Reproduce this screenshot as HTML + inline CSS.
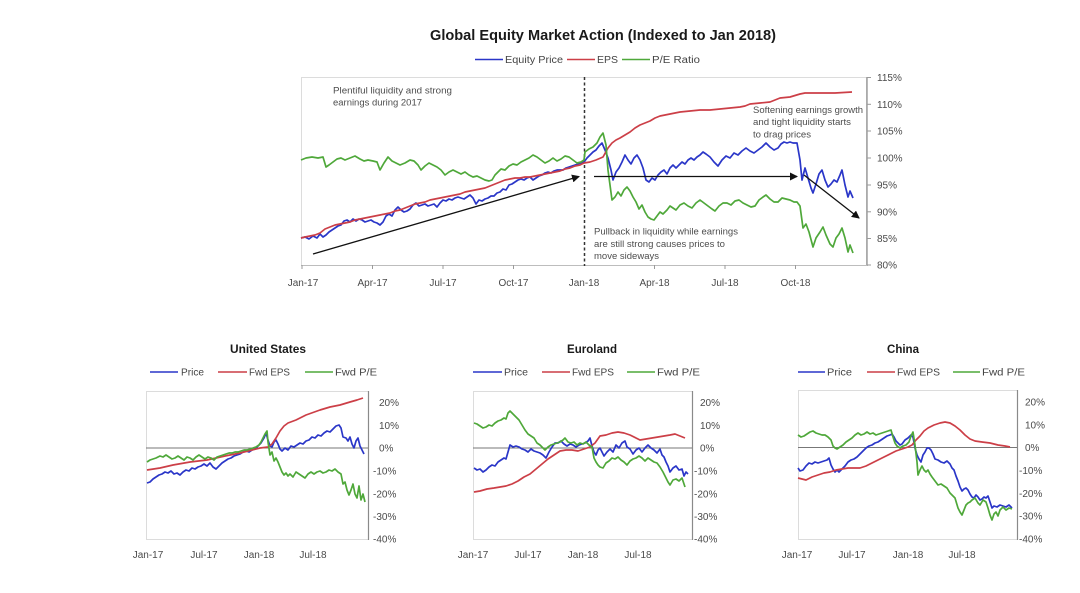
<!DOCTYPE html>
<html>
<head>
<meta charset="utf-8">
<style>
  html,body{margin:0;padding:0;background:#fff;}
  svg{display:block;}
  text{font-family:"Liberation Sans",sans-serif;}
</style>
</head>
<body>
<svg width="1080" height="593" viewBox="0 0 1080 593" xmlns="http://www.w3.org/2000/svg">
<rect x="0" y="0" width="1080" height="593" fill="#fff"/>

<!-- ===== TOP CHART ===== -->
<text x="430" y="40" font-size="14.5" font-weight="bold" fill="#1a1a1a" textLength="346" lengthAdjust="spacingAndGlyphs">Global Equity Market Action (Indexed to Jan 2018)</text>

<!-- legend -->
<g font-size="10" fill="#444">
  <line x1="475" y1="59.5" x2="503" y2="59.5" stroke="#2a36c8" stroke-width="1.6"/>
  <text x="505" y="63" textLength="58" lengthAdjust="spacingAndGlyphs">Equity Price</text>
  <line x1="567" y1="59.5" x2="595" y2="59.5" stroke="#cc3f47" stroke-width="1.6"/>
  <text x="597" y="63" textLength="21" lengthAdjust="spacingAndGlyphs">EPS</text>
  <line x1="622" y1="59.5" x2="650" y2="59.5" stroke="#4fa83a" stroke-width="1.6"/>
  <text x="652" y="63" textLength="48" lengthAdjust="spacingAndGlyphs">P/E Ratio</text>
</g>

<!-- frame -->
<rect x="301.5" y="77.5" width="565" height="188" fill="none" stroke="#dcdcdc" stroke-width="1"/>
<line x1="867" y1="77" x2="867" y2="266" stroke="#8a8a8a" stroke-width="1.2"/>
<line x1="301" y1="265.5" x2="867" y2="265.5" stroke="#bdbdbd" stroke-width="1"/>
<g stroke="#9a9a9a" stroke-width="1">
  <line x1="302" y1="265" x2="302" y2="269"/>
  <line x1="372.5" y1="265" x2="372.5" y2="269"/>
  <line x1="443" y1="265" x2="443" y2="269"/>
  <line x1="513.5" y1="265" x2="513.5" y2="269"/>
  <line x1="654.5" y1="265" x2="654.5" y2="269"/>
  <line x1="725" y1="265" x2="725" y2="269"/>
  <line x1="795.5" y1="265" x2="795.5" y2="269"/>
  <line x1="867" y1="77.5" x2="871" y2="77.5"/>
  <line x1="867" y1="104.3" x2="871" y2="104.3"/>
  <line x1="867" y1="131" x2="871" y2="131"/>
  <line x1="867" y1="158" x2="871" y2="158"/>
  <line x1="867" y1="185" x2="871" y2="185"/>
  <line x1="867" y1="211.8" x2="871" y2="211.8"/>
  <line x1="867" y1="238.5" x2="871" y2="238.5"/>
  <line x1="867" y1="265" x2="871" y2="265"/>
</g>
<g font-size="10" fill="#4a4a4a">
  <text x="877" y="81">115%</text>
  <text x="877" y="108">110%</text>
  <text x="877" y="134.5">105%</text>
  <text x="877" y="161.5">100%</text>
  <text x="877" y="188.5">95%</text>
  <text x="877" y="215.3">90%</text>
  <text x="877" y="242">85%</text>
  <text x="877" y="268.5">80%</text>
</g>
<g font-size="10" fill="#4a4a4a" text-anchor="middle">
  <text x="303" y="286">Jan-17</text>
  <text x="372.5" y="286">Apr-17</text>
  <text x="443" y="286">Jul-17</text>
  <text x="513.5" y="286">Oct-17</text>
  <text x="584" y="286">Jan-18</text>
  <text x="654.5" y="286">Apr-18</text>
  <text x="725" y="286">Jul-18</text>
  <text x="795.5" y="286">Oct-18</text>
</g>

<!-- dashed vertical -->
<line x1="584.5" y1="77" x2="584.5" y2="266" stroke="#333" stroke-width="1.5" stroke-dasharray="3,2.5"/>

<!-- series top -->
<polyline fill="none" stroke="#2a36c8" stroke-width="1.7" stroke-linejoin="round" points="301,238 305,237 309,239 313,236 317,238 320,234 323,237 326,235 329,232 332,230 335,228 338,226 341,225 344,221 347,220 350,222 353,219 356,221 359,219 362,220 365,222 368,221 371,220 374,222 377,223 380,225 383,222 386,216 389,214 392,216 395,210 398,207 401,210 404,212 407,211 410,209 413,205 416,203 419,206 422,205 425,204 428,206 431,205 434,204 437,207 440,203 443,200 446,201 449,199 452,200 455,198 458,197 461,198 464,199 467,197 470,195 473,198 476,204 479,200 482,201 485,199 488,198 491,196 494,196 497,193 500,192 503,189 506,190 509,185 512,184 515,182 518,180 521,179 524,180 527,178 530,177 533,180 536,178 539,176 542,175 545,173 548,172 551,173 554,171 557,170 560,170 563,170 566,168 569,167 572,166 575,165 578,164 581,163 584,162 587,158 590,155 593,152 596,150 599,146 602,143 605,150 608,158 611,170 613,180 616,172 619,168 622,162 625,155 628,160 631,164 634,158 637,155 640,160 643,168 646,180 649,182 652,178 655,180 658,175 661,172 664,170 667,174 670,168 673,165 676,168 679,165 682,162 685,164 688,160 691,158 694,160 697,157 700,155 703,152 706,154 710,157 714,162 718,166 722,160 726,156 730,158 734,153 738,155 742,151 746,148 750,151 754,153 758,150 762,147 766,143 770,147 774,150 778,148 781,144 784,142 787,143 790,142 793,143 797,143 800,160 802,180 805,168 808,178 811,188 813,193 816,184 819,174 822,170 825,180 828,187 831,184 834,180 837,182 840,175 842,170 845,185 848,197 850,191 853,198"/>
<polyline fill="none" stroke="#cc3f47" stroke-width="1.7" stroke-linejoin="round" points="301,238 305,237 310,236 315,235 320,233 325,229 330,227 335,225 340,224 345,223 350,222 355,220 360,219 365,218 370,217 375,216 380,215 385,214 390,213 395,211 400,210 405,208 410,206 415,204 420,203 425,202 430,200 435,199 440,198 445,197 450,196 455,195 460,194 465,192 470,191 475,190 480,189 485,188 490,186 495,184 500,182 505,180 510,179 515,178 520,178 525,177 530,177 535,176 540,175 545,174 550,173 555,172 560,171 565,169 570,168 575,166 580,165 584,163 590,162 596,160 603,157 608,148 612,143 616,140 620,138 625,135 630,132 635,128 640,125 645,123 650,121 655,118 660,116 665,115 670,114 675,113 680,112 690,111 700,110 710,110 720,109 730,108 740,107 745,106 750,104 760,103 770,102 775,100 780,98 790,97 800,94 805,93 820,93 835,93 852,92"/>
<polyline fill="none" stroke="#4fa83a" stroke-width="1.7" stroke-linejoin="round" points="301,160 306,158 312,157 318,158 323,157 326,167 329,165 333,162 337,159 341,158 345,160 350,158 355,156 360,159 364,161 368,160 373,161 377,162 380,170 384,163 388,157 392,161 396,163 400,165 405,163 410,160 414,161 418,165 421,170 425,166 429,163 433,165 437,167 441,170 445,175 449,172 453,170 457,172 461,174 465,172 469,175 473,177 477,176 481,178 485,180 489,181 492,180 495,175 498,172 501,169 505,170 509,166 513,164 517,165 521,162 525,160 529,158 533,155 537,157 541,160 545,163 549,161 553,158 557,161 561,159 565,156 569,157 573,160 577,163 581,162 584,160 585,152 589,149 593,147 597,143 600,137 603,133 606,145 608,170 610,185 612,200 615,197 618,192 621,196 624,190 627,187 630,191 633,197 636,202 639,209 642,205 645,212 648,217 651,219 654,220 657,216 660,212 663,214 667,210 670,206 673,208 676,210 680,205 684,203 688,206 692,208 696,203 700,200 704,203 708,206 712,209 715,211 719,206 723,203 727,203 731,205 735,201 739,200 743,203 747,205 751,207 755,206 759,200 763,197 766,195 770,199 774,202 778,202 782,198 786,199 790,200 794,202 797,202 800,206 803,228 806,224 809,232 813,247 816,238 820,232 823,227 826,235 830,244 833,247 836,238 839,234 842,228 845,238 848,252 850,245 853,253"/>

<!-- arrows -->
<defs>
  <marker id="ah" markerWidth="8" markerHeight="8" refX="7" refY="4" orient="auto" markerUnits="userSpaceOnUse">
    <path d="M0,0 L8,4 L0,8 Z" fill="#111"/>
  </marker>
</defs>
<line x1="313" y1="254" x2="579" y2="176.5" stroke="#111" stroke-width="1.3" marker-end="url(#ah)"/>
<line x1="594" y1="176.5" x2="797" y2="176.5" stroke="#111" stroke-width="1.3" marker-end="url(#ah)"/>
<line x1="804" y1="175" x2="859" y2="218" stroke="#111" stroke-width="1.3" marker-end="url(#ah)"/>

<!-- annotations -->
<g font-size="9" fill="#4d4d4d">
  <text x="333" y="93.5" textLength="119" lengthAdjust="spacingAndGlyphs">Plentiful liquidity and strong</text>
  <text x="333" y="105.5" textLength="89" lengthAdjust="spacingAndGlyphs">earnings during 2017</text>
  <text x="753" y="113" textLength="110" lengthAdjust="spacingAndGlyphs">Softening earnings growth</text>
  <text x="753" y="125" textLength="98" lengthAdjust="spacingAndGlyphs">and tight liquidity starts</text>
  <text x="753" y="137.5" textLength="58" lengthAdjust="spacingAndGlyphs">to drag prices</text>
  <text x="594" y="234.5" textLength="144" lengthAdjust="spacingAndGlyphs">Pullback in liquidity while earnings</text>
  <text x="594" y="247" textLength="131" lengthAdjust="spacingAndGlyphs">are still strong causes prices to</text>
  <text x="594" y="259" textLength="65" lengthAdjust="spacingAndGlyphs">move sideways</text>
</g>

<!-- ===== BOTTOM CHART: UNITED STATES ===== -->
<text x="268" y="353" font-size="11.5" font-weight="bold" fill="#1a1a1a" text-anchor="middle" textLength="76" lengthAdjust="spacingAndGlyphs">United States</text>
<g font-size="10" fill="#444">
  <line x1="150" y1="372" x2="178" y2="372" stroke="#2a36c8" stroke-width="1.6"/>
  <text x="181" y="375.5" textLength="23" lengthAdjust="spacingAndGlyphs">Price</text>
  <line x1="218" y1="372" x2="247" y2="372" stroke="#cc3f47" stroke-width="1.6"/>
  <text x="249" y="375.5" textLength="41" lengthAdjust="spacingAndGlyphs">Fwd EPS</text>
  <line x1="305" y1="372" x2="333" y2="372" stroke="#4fa83a" stroke-width="1.6"/>
  <text x="335" y="375.5" textLength="42" lengthAdjust="spacingAndGlyphs">Fwd P/E</text>
</g>
<rect x="146.5" y="391.5" width="222" height="148" fill="none" stroke="#dcdcdc" stroke-width="1"/>
<line x1="368.5" y1="391" x2="368.5" y2="540" stroke="#8a8a8a" stroke-width="1.2"/>
<line x1="146" y1="448" x2="368" y2="448" stroke="#777" stroke-width="1"/>
<g font-size="10" fill="#4a4a4a">
  <text x="379" y="406">20%</text>
  <text x="379" y="429">10%</text>
  <text x="379" y="451.5">0%</text>
  <text x="373" y="474.5">-10%</text>
  <text x="373" y="497.5">-20%</text>
  <text x="373" y="520">-30%</text>
  <text x="373" y="542.5">-40%</text>
</g>
<g font-size="10" fill="#4a4a4a" text-anchor="middle">
  <text x="148" y="558">Jan-17</text>
  <text x="204" y="558">Jul-17</text>
  <text x="259" y="558">Jan-18</text>
  <text x="313" y="558">Jul-18</text>
</g>
<polyline fill="none" stroke="#2a36c8" stroke-width="1.7" stroke-linejoin="round" points="147,483 150,482 153,479 156,477 159,475 162,474 165,472 168,473 171,471 174,474 177,473 180,475 183,472 186,470 189,471 192,468 195,469 198,467 201,466 204,464 207,466 210,463 213,467 216,469 219,466 222,463 225,461 228,459 231,458 234,456 237,455 240,454 243,452 246,451 249,452 252,450 255,449 258,446 261,443 264,438 266,433 268,440 270,446 272,447 274,442 276,440 278,444 280,449 282,451 285,448 288,450 291,446 294,447 297,445 300,443 303,444 306,441 309,440 312,437 315,438 318,435 321,436 324,433 327,431 330,432 333,429 336,426 339,425 341,428 343,437 346,438 348,441 350,437 352,444 354,448 356,441 358,438 360,446 362,450 364,454"/>
<polyline fill="none" stroke="#cc3f47" stroke-width="1.7" stroke-linejoin="round" points="147,470 160,468 173,465 190,462 207,460 225,456 240,453 252,450 260,448 268,447 272,444 276,438 280,431 284,426 288,423 296,420 306,415 320,410 330,407 340,405 350,402 357,400 363,398"/>
<polyline fill="none" stroke="#4fa83a" stroke-width="1.7" stroke-linejoin="round" points="147,462 150,460 153,459 156,458 160,456 163,457 166,455 169,457 172,459 175,458 178,456 181,458 184,460 187,457 190,458 193,460 196,457 199,455 202,457 205,459 208,457 211,458 214,460 217,457 220,456 223,455 226,454 229,453 232,453 235,452 238,452 241,451 244,450 247,450 250,449 253,448 256,447 259,445 261,442 263,438 265,434 267,431 268,442 270,455 272,452 274,461 276,458 278,462 280,467 282,472 284,475 286,473 288,476 290,474 293,477 296,472 299,474 302,476 305,478 308,474 311,472 314,474 317,472 320,471 323,473 326,472 329,470 332,471 335,469 338,472 341,474 343,484 345,482 347,490 349,495 351,490 353,484 355,494 357,498 359,486 361,500 363,494 365,502"/>

<!-- ===== BOTTOM CHART: EUROLAND ===== -->
<text x="592" y="353" font-size="11.5" font-weight="bold" fill="#1a1a1a" text-anchor="middle" textLength="50" lengthAdjust="spacingAndGlyphs">Euroland</text>
<g font-size="10" fill="#444">
  <line x1="473" y1="372" x2="502" y2="372" stroke="#2a36c8" stroke-width="1.6"/>
  <text x="504" y="375.5" textLength="24" lengthAdjust="spacingAndGlyphs">Price</text>
  <line x1="542" y1="372" x2="570" y2="372" stroke="#cc3f47" stroke-width="1.6"/>
  <text x="572" y="375.5" textLength="42" lengthAdjust="spacingAndGlyphs">Fwd EPS</text>
  <line x1="627" y1="372" x2="655" y2="372" stroke="#4fa83a" stroke-width="1.6"/>
  <text x="657" y="375.5" textLength="43" lengthAdjust="spacingAndGlyphs">Fwd P/E</text>
</g>
<rect x="473.5" y="391.5" width="219" height="148" fill="none" stroke="#dcdcdc" stroke-width="1"/>
<line x1="692.5" y1="391" x2="692.5" y2="540" stroke="#8a8a8a" stroke-width="1.2"/>
<line x1="473" y1="448" x2="692" y2="448" stroke="#777" stroke-width="1"/>
<g font-size="10" fill="#4a4a4a">
  <text x="700" y="406">20%</text>
  <text x="700" y="429">10%</text>
  <text x="700" y="451.5">0%</text>
  <text x="694" y="474.5">-10%</text>
  <text x="694" y="497.5">-20%</text>
  <text x="694" y="520">-30%</text>
  <text x="694" y="542.5">-40%</text>
</g>
<g font-size="10" fill="#4a4a4a" text-anchor="middle">
  <text x="473" y="558">Jan-17</text>
  <text x="528" y="558">Jul-17</text>
  <text x="583" y="558">Jan-18</text>
  <text x="638" y="558">Jul-18</text>
</g>
<polyline fill="none" stroke="#2a36c8" stroke-width="1.7" stroke-linejoin="round" points="474,468 477,470 480,469 483,472 486,470 489,467 492,465 495,466 498,462 501,460 504,458 506,459 508,452 510,445 513,447 516,446 519,447 522,449 525,450 528,452 531,449 534,451 537,452 540,453 543,455 546,458 549,452 552,447 555,443 558,443 561,441 564,444 567,446 570,444 573,445 576,447 579,445 582,444 585,443 588,441 590,438 592,446 594,452 596,455 598,450 600,448 602,452 604,456 607,452 610,449 613,452 616,445 619,448 622,443 625,441 627,447 630,449 633,454 636,450 639,448 642,452 645,448 648,445 651,448 654,450 657,453 660,449 662,455 664,457 666,462 668,466 670,472 673,468 676,466 679,470 682,469 684,476 686,472 688,474"/>
<polyline fill="none" stroke="#cc3f47" stroke-width="1.7" stroke-linejoin="round" points="474,492 480,491 487,489 494,488 500,487 506,486 512,484 518,481 524,477 530,474 536,469 542,464 548,459 554,455 560,451 566,450 572,450 578,451 584,449 590,447 595,443 600,436 606,435 612,433 618,432 624,433 630,435 636,438 640,440 646,439 652,438 658,437 664,436 670,435 675,434 680,436 685,438"/>
<polyline fill="none" stroke="#4fa83a" stroke-width="1.7" stroke-linejoin="round" points="474,423 477,424 480,426 483,428 486,427 489,425 492,426 495,423 498,421 501,420 504,418 506,419 508,413 510,411 513,414 516,417 519,420 522,425 525,430 528,434 531,436 534,438 537,443 540,445 543,448 545,450 548,447 551,445 554,444 557,443 560,442 563,440 565,438 568,442 571,443 574,442 577,445 580,443 583,444 586,442 589,445 592,447 594,458 596,462 598,465 600,467 603,468 606,463 609,461 612,458 615,459 618,457 621,460 624,462 627,465 630,461 633,459 636,458 639,456 642,458 645,461 648,458 651,460 654,462 657,463 660,467 663,472 666,478 668,482 670,485 673,480 676,479 679,481 682,478 685,487"/>

<!-- ===== BOTTOM CHART: CHINA ===== -->
<text x="903" y="353" font-size="11.5" font-weight="bold" fill="#1a1a1a" text-anchor="middle" textLength="32" lengthAdjust="spacingAndGlyphs">China</text>
<g font-size="10" fill="#444">
  <line x1="798" y1="372" x2="825" y2="372" stroke="#2a36c8" stroke-width="1.6"/>
  <text x="827" y="375.5" textLength="25" lengthAdjust="spacingAndGlyphs">Price</text>
  <line x1="867" y1="372" x2="895" y2="372" stroke="#cc3f47" stroke-width="1.6"/>
  <text x="897" y="375.5" textLength="43" lengthAdjust="spacingAndGlyphs">Fwd EPS</text>
  <line x1="953" y1="372" x2="980" y2="372" stroke="#4fa83a" stroke-width="1.6"/>
  <text x="982" y="375.5" textLength="43" lengthAdjust="spacingAndGlyphs">Fwd P/E</text>
</g>
<rect x="798.5" y="390.5" width="219" height="149" fill="none" stroke="#dcdcdc" stroke-width="1"/>
<line x1="1017.5" y1="390" x2="1017.5" y2="540" stroke="#8a8a8a" stroke-width="1.2"/>
<line x1="798" y1="447.5" x2="1017" y2="447.5" stroke="#777" stroke-width="1"/>
<g font-size="10" fill="#4a4a4a">
  <text x="1025" y="405.5">20%</text>
  <text x="1025" y="428.5">10%</text>
  <text x="1025" y="451">0%</text>
  <text x="1019" y="474">-10%</text>
  <text x="1019" y="497">-20%</text>
  <text x="1019" y="519.5">-30%</text>
  <text x="1019" y="542.5">-40%</text>
</g>
<g font-size="10" fill="#4a4a4a" text-anchor="middle">
  <text x="797" y="558">Jan-17</text>
  <text x="852" y="558">Jul-17</text>
  <text x="908" y="558">Jan-18</text>
  <text x="962" y="558">Jul-18</text>
</g>
<polyline fill="none" stroke="#2a36c8" stroke-width="1.7" stroke-linejoin="round" points="798,468 800,471 803,470 806,466 809,463 812,464 815,462 818,463 821,462 824,461 827,460 829,458 831,465 833,469 835,472 837,470 839,472 841,470 843,468 845,466 848,462 851,460 854,459 857,457 860,454 863,451 866,448 869,446 872,445 875,443 878,442 881,440 884,438 887,436 890,435 892,434 894,437 896,441 898,443 900,445 902,444 905,440 908,438 911,435 913,437 915,448 917,455 919,459 921,462 923,455 925,452 927,448 929,448 931,450 933,454 935,459 938,460 941,462 944,463 947,461 950,464 952,468 954,470 956,476 958,481 960,487 962,491 964,489 966,488 968,490 970,494 972,497 974,498 976,495 978,497 980,500 982,499 984,497 986,498 988,496 990,502 992,508 994,506 997,507 1000,505 1003,506 1006,507 1009,505 1012,508"/>
<polyline fill="none" stroke="#cc3f47" stroke-width="1.7" stroke-linejoin="round" points="798,478 802,479 806,480 812,477 818,475 824,473 830,472 836,470 842,469 848,468 854,468 860,468 866,466 872,463 878,460 884,457 890,454 896,451 902,449 908,447 912,445 916,440 920,436 924,431 928,428 934,425 940,423 945,422 950,423 955,426 960,430 965,435 970,439 975,441 982,442 990,443 998,445 1005,446 1010,447"/>
<polyline fill="none" stroke="#4fa83a" stroke-width="1.7" stroke-linejoin="round" points="798,435 801,437 804,436 807,434 810,432 813,431 816,433 819,434 822,435 825,435 828,437 831,440 833,446 835,448 837,449 840,447 843,445 846,442 849,440 852,438 855,435 858,433 861,435 864,434 867,432 870,434 873,433 876,435 879,434 882,433 885,432 888,431 891,430 893,437 895,443 897,446 900,448 903,446 906,445 909,442 911,436 913,432 915,445 917,462 918,475 920,470 922,466 924,470 926,472 928,470 930,474 932,477 935,481 938,485 941,484 944,486 947,488 950,493 952,495 955,498 958,508 960,512 962,515 964,510 966,505 968,503 970,502 972,500 975,498 978,503 980,505 983,500 986,502 988,508 990,515 992,520 994,514 996,512 998,516 1000,510 1003,507 1006,510 1009,508 1012,509"/>

</svg>
</body>
</html>
